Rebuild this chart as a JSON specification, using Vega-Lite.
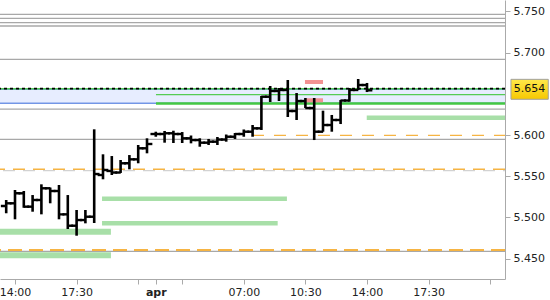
{
  "$schema": "https://vega.github.io/schema/vega-lite/v6.json",
  "width": 505,
  "height": 279,
  "autosize": {"type": "none"},
  "padding": {"left": 0, "top": 0, "right": 45, "bottom": 21},
  "background": "white",
  "config": {
    "view": {"stroke": null},
    "font": "DejaVu Sans",
    "axis": {"labelFont": "DejaVu Sans", "labelFontSize": 11, "labelColor": "#222", "domainColor": "#aaa", "tickColor": "#aaa", "tickSize": 5, "grid": false, "title": null}
  },
  "datasets": {
    "ohlc": [
      {"j": -1, "o": 5.5139, "h": 5.5212, "l": 5.5051, "c": 5.5172},
      {"j": 0, "o": 5.5172, "h": 5.5333, "l": 5.4978, "c": 5.5293},
      {"j": 1, "o": 5.5293, "h": 5.5321, "l": 5.5118, "c": 5.5131},
      {"j": 2, "o": 5.5131, "h": 5.5272, "l": 5.507, "c": 5.5212},
      {"j": 3, "o": 5.5212, "h": 5.5402, "l": 5.5038, "c": 5.5354},
      {"j": 4, "o": 5.5354, "h": 5.5363, "l": 5.5172, "c": 5.5321},
      {"j": 5, "o": 5.5321, "h": 5.5394, "l": 5.4978, "c": 5.5038},
      {"j": 6, "o": 5.5038, "h": 5.5272, "l": 5.486, "c": 5.49},
      {"j": 7, "o": 5.49, "h": 5.5091, "l": 5.4779, "c": 5.4969},
      {"j": 8, "o": 5.4969, "h": 5.5091, "l": 5.4929, "c": 5.5009},
      {"j": 9, "o": 5.5009, "h": 5.6069, "l": 5.4933, "c": 5.5527},
      {"j": 10, "o": 5.5515, "h": 5.5766, "l": 5.5463, "c": 5.5576},
      {"j": 11, "o": 5.5564, "h": 5.5745, "l": 5.5515, "c": 5.5545},
      {"j": 12, "o": 5.5545, "h": 5.5697, "l": 5.554, "c": 5.5657},
      {"j": 13, "o": 5.5657, "h": 5.5757, "l": 5.5584, "c": 5.5705},
      {"j": 14, "o": 5.5705, "h": 5.5879, "l": 5.5657, "c": 5.5839},
      {"j": 15, "o": 5.5839, "h": 5.596, "l": 5.5778, "c": 5.5891},
      {"j": 16, "o": 5.6012, "h": 5.604, "l": 5.5979, "c": 5.6012},
      {"j": 17, "o": 5.6012, "h": 5.6049, "l": 5.5907, "c": 5.6021},
      {"j": 18, "o": 5.6021, "h": 5.6052, "l": 5.5903, "c": 5.6012},
      {"j": 19, "o": 5.6012, "h": 5.6036, "l": 5.5903, "c": 5.596},
      {"j": 20, "o": 5.596, "h": 5.5994, "l": 5.5899, "c": 5.5939},
      {"j": 21, "o": 5.5939, "h": 5.596, "l": 5.5858, "c": 5.5907},
      {"j": 22, "o": 5.5907, "h": 5.5952, "l": 5.5879, "c": 5.5919},
      {"j": 23, "o": 5.5919, "h": 5.5976, "l": 5.5879, "c": 5.5945},
      {"j": 24, "o": 5.5945, "h": 5.6006, "l": 5.5919, "c": 5.5979},
      {"j": 25, "o": 5.5979, "h": 5.6024, "l": 5.5952, "c": 5.6012},
      {"j": 26, "o": 5.6012, "h": 5.6067, "l": 5.5979, "c": 5.604},
      {"j": 27, "o": 5.604, "h": 5.6121, "l": 5.5979, "c": 5.6081},
      {"j": 28, "o": 5.6081, "h": 5.6473, "l": 5.6061, "c": 5.6464},
      {"j": 29, "o": 5.6464, "h": 5.6594, "l": 5.64, "c": 5.6534},
      {"j": 30, "o": 5.6534, "h": 5.657, "l": 5.6412, "c": 5.6546},
      {"j": 31, "o": 5.6546, "h": 5.6667, "l": 5.6218, "c": 5.6291},
      {"j": 32, "o": 5.6291, "h": 5.6509, "l": 5.6182, "c": 5.6412},
      {"j": 33, "o": 5.6412, "h": 5.6449, "l": 5.6327, "c": 5.6327},
      {"j": 34, "o": 5.6327, "h": 5.6449, "l": 5.5939, "c": 5.604},
      {"j": 35, "o": 5.604, "h": 5.6295, "l": 5.604, "c": 5.6121},
      {"j": 36, "o": 5.6121, "h": 5.6243, "l": 5.604, "c": 5.6182},
      {"j": 37, "o": 5.6182, "h": 5.6424, "l": 5.6133, "c": 5.6418},
      {"j": 38, "o": 5.6418, "h": 5.657, "l": 5.6404, "c": 5.6546},
      {"j": 39, "o": 5.6546, "h": 5.6679, "l": 5.6546, "c": 5.6606},
      {"j": 40, "o": 5.6606, "h": 5.6631, "l": 5.6521, "c": 5.6542}
    ]
  },
  "layer": [
    {
      "data": {"values": [{"top": 5.6556, "bottom": 5.6392}]},
      "mark": {"type": "rect", "color": "#e7edff"},
      "encoding": {
        "y": {"field": "top", "type": "quantitative", "scale": {"domain": [5.4254, 5.7637], "nice": false, "zero": false},
              "axis": {"orient": "right", "values": [5.45, 5.5, 5.55, 5.6, 5.7, 5.75], "format": ".3f", "labelPadding": 3}},
        "y2": {"field": "bottom"},
        "x": {"datum": -1.7045, "type": "quantitative", "scale": {"domain": [-1.7045, 55.682], "nice": false, "zero": false},
              "axis": {"orient": "bottom", "values": [0, 7, 14, 16, 19, 26, 33, 40, 47, 54], "labelPadding": 2,
                       "labelExpr": "datum.value == 0 ? '14:00' : datum.value == 7 ? '17:30' : datum.value == 16 ? 'apr' : datum.value == 26 ? '07:00' : datum.value == 33 ? '10:30' : datum.value == 40 ? '14:00' : datum.value == 47 ? '17:30' : ''",
                       "labelFontWeight": {"condition": {"test": "datum.value == 16", "value": "bold"}, "value": "normal"}}},
        "x2": {"datum": 55.682}
      }
    },
    {
      "data": {"values": [{"y": 5.7463}, {"y": 5.7415}, {"y": 5.7362}, {"y": 5.7322}, {"y": 5.6918}, {"y": 5.6315}, {"y": 5.5948}, {"y": 5.459}]},
      "mark": {"type": "rule", "color": "#a8a8a8", "strokeWidth": 1.3},
      "encoding": {"y": {"field": "y", "type": "quantitative"}}
    },
    {
      "data": {"values": [{"y": 5.5567}]},
      "mark": {"type": "rule", "color": "#d2d2d2", "strokeWidth": 1.3, "strokeDash": [12, 8], "strokeDashOffset": -10},
      "encoding": {"y": {"field": "y", "type": "quantitative"}}
    },
    {
      "data": {"values": [{"y": 5.6556}, {"y": 5.6384}]},
      "mark": {"type": "rule", "color": "#7396e6", "strokeWidth": 1.5},
      "encoding": {"y": {"field": "y", "type": "quantitative"}}
    },
    {
      "data": {"values": [{"y": 5.621, "s": 39.97, "e": 55.682}, {"y": 5.5228, "s": 9.89, "e": 30.9}, {"y": 5.4929, "s": 9.89, "e": 29.85}]},
      "mark": {"type": "rule", "color": "#a8dfa8", "strokeWidth": 4.5},
      "encoding": {"y": {"field": "y", "type": "quantitative"}, "x": {"field": "s", "type": "quantitative"}, "x2": {"field": "e"}}
    },
    {
      "data": {"values": [{"y": 5.4827, "s": -1.7045, "e": 10.9}, {"y": 5.4541, "s": -1.7045, "e": 10.9}]},
      "mark": {"type": "rule", "color": "#a8dfa8", "strokeWidth": 6},
      "encoding": {"y": {"field": "y", "type": "quantitative"}, "x": {"field": "s", "type": "quantitative"}, "x2": {"field": "e"}}
    },
    {
      "data": {"values": [{"y": 5.5584}]},
      "mark": {"type": "rule", "color": "#f6b443", "strokeWidth": 1.5, "strokeDash": [12, 8]},
      "encoding": {"y": {"field": "y", "type": "quantitative"}}
    },
    {
      "data": {"values": [{"y": 5.4606}]},
      "mark": {"type": "rule", "color": "#f6b443", "strokeWidth": 2, "strokeDash": [14, 7]},
      "encoding": {"y": {"field": "y", "type": "quantitative"}}
    },
    {
      "data": {"values": [{"y": 5.5996, "s": 26.93, "e": 55.682}]},
      "mark": {"type": "rule", "color": "#f6b443", "strokeWidth": 1.3, "strokeDash": [12, 10]},
      "encoding": {"y": {"field": "y", "type": "quantitative"}, "x": {"field": "s", "type": "quantitative"}, "x2": {"field": "e"}}
    },
    {
      "data": {"values": [{"y": 5.6489, "s": 16.02, "e": 55.682}]},
      "mark": {"type": "rule", "color": "#55cc55", "strokeWidth": 1.2},
      "encoding": {"y": {"field": "y", "type": "quantitative"}, "x": {"field": "s", "type": "quantitative"}, "x2": {"field": "e"}}
    },
    {
      "data": {"values": [{"y": 5.6382, "s": 16.02, "e": 55.682}]},
      "mark": {"type": "rule", "color": "#44c844", "strokeWidth": 2.5},
      "encoding": {"y": {"field": "y", "type": "quantitative"}, "x": {"field": "s", "type": "quantitative"}, "x2": {"field": "e"}}
    },
    {
      "data": {"values": [{"y": 5.6562}]},
      "mark": {"type": "rule", "color": "#55cc55", "strokeWidth": 1.5},
      "encoding": {"y": {"field": "y", "type": "quantitative"}}
    },
    {
      "data": {"values": [{"y": 5.6643, "s": 32.95, "e": 35.0}, {"y": 5.6421, "s": 32.95, "e": 35.0}]},
      "mark": {"type": "rule", "color": "#f39292", "strokeWidth": 4},
      "encoding": {"y": {"field": "y", "type": "quantitative"}, "x": {"field": "s", "type": "quantitative"}, "x2": {"field": "e"}}
    },
    {
      "data": {"values": [{"y": 5.6562}]},
      "mark": {"type": "rule", "color": "#000", "strokeWidth": 1.8, "strokeDash": [3, 3]},
      "encoding": {"y": {"field": "y", "type": "quantitative"}}
    },
    {
      "data": {"name": "ohlc"},
      "mark": {"type": "rule", "color": "#000", "strokeWidth": 2.6},
      "encoding": {"x": {"field": "j", "type": "quantitative"}, "y": {"field": "h", "type": "quantitative"}, "y2": {"field": "l"}}
    },
    {
      "data": {"name": "ohlc"},
      "mark": {"type": "tick", "orient": "horizontal", "color": "#000", "size": 5.5, "thickness": 2.4, "xOffset": -2.6, "opacity": 1},
      "encoding": {"x": {"field": "j", "type": "quantitative"}, "y": {"field": "o", "type": "quantitative"}}
    },
    {
      "data": {"name": "ohlc"},
      "mark": {"type": "tick", "orient": "horizontal", "color": "#000", "size": 5.5, "thickness": 2.4, "xOffset": 2.6, "opacity": 1},
      "encoding": {"x": {"field": "j", "type": "quantitative"}, "y": {"field": "c", "type": "quantitative"}}
    },
    {
      "data": {"values": [{"price": 5.6554, "label": "5.654"}]},
      "mark": {"type": "rect", "stroke": "#a0a0a0", "strokeWidth": 1, "clip": false,
               "fill": {"gradient": "linear", "x1": 0, "y1": 0, "x2": 0, "y2": 1, "stops": [{"offset": 0, "color": "#ffe84a"}, {"offset": 1, "color": "#f6c800"}]}},
      "encoding": {"x": {"datum": 56.36, "type": "quantitative"}, "x2": {"datum": 60.6}, "y": {"datum": 5.6675, "type": "quantitative"}, "y2": {"datum": 5.6433}}
    },
    {
      "data": {"values": [{"price": 5.6554, "label": "5.654"}]},
      "mark": {"type": "text", "fontSize": 11, "font": "DejaVu Sans", "color": "#111", "align": "center", "baseline": "middle", "clip": false},
      "encoding": {"x": {"datum": 58.48, "type": "quantitative"}, "y": {"field": "price", "type": "quantitative"}, "text": {"field": "label"}}
    }
  ]
}
